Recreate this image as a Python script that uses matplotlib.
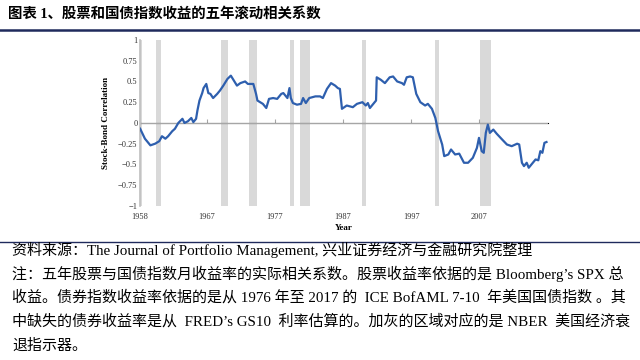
import matplotlib.pyplot as plt

plt.rcParams['font.family'] = ['Liberation Serif', 'Noto Sans CJK SC']

# Correlación móvil de 5 años acciones / bonos
years = [1958.0, 1958.7, 1959.5, 1960.2, 1960.8, 1961.2, 1961.7, 1962.1, 1962.7, 1963.1,
         1963.6, 1964.2, 1964.5, 1965.0, 1965.5, 1965.8, 1966.2, 1966.4, 1966.7, 1967.1,
         1967.3, 1967.7, 1968.0, 1968.3, 1968.7, 1969.3, 1969.7, 1970.2, 1970.8, 1971.3,
         1971.6, 1972.2, 1972.7, 1973.4, 1973.8, 1974.6, 1975.0, 1975.2, 1975.6, 1976.0,
         1976.5, 1976.9, 1977.5, 1978.1, 1978.7, 1979.0, 1979.6, 1979.9, 1980.1, 1980.4,
         1981.0, 1981.6, 1981.9, 1982.3, 1982.8, 1983.7, 1984.4, 1984.8, 1985.4, 1986.0,
         1986.6, 1987.0, 1987.3, 1987.6, 1988.3, 1989.2, 1989.8, 1990.6, 1991.1, 1991.4,
         1991.7, 1992.2, 1992.6, 1992.7, 1993.3, 1993.9, 1994.6, 1995.1, 1995.7, 1996.4,
         1996.7, 1997.1, 1997.6, 1998.0, 1998.5, 1999.1, 1999.8, 2000.2, 2000.8, 2001.3,
         2001.7, 2002.3, 2002.6, 2003.2, 2003.6, 2004.2, 2004.8, 2005.5, 2006.1, 2006.8,
         2007.4, 2007.7, 2008.1, 2008.4, 2008.7, 2009.0, 2009.3, 2009.8, 2010.3, 2011.1,
         2011.8, 2012.5, 2013.3, 2013.6, 2014.0, 2014.3, 2014.7, 2015.0, 2015.6, 2016.0,
         2016.4, 2016.7, 2017.0, 2017.3, 2017.6]
corr = [-0.07, -0.19, -0.27, -0.25, -0.22, -0.16, -0.19, -0.16, -0.10, -0.07,
        0.00, 0.05, 0.00, 0.02, 0.06, 0.01, 0.05, 0.15, 0.27, 0.36,
        0.42, 0.47, 0.36, 0.35, 0.30, 0.35, 0.39, 0.45, 0.53, 0.57,
        0.53, 0.45, 0.48, 0.50, 0.47, 0.47, 0.35, 0.27, 0.25, 0.23,
        0.18, 0.29, 0.30, 0.29, 0.35, 0.36, 0.30, 0.42, 0.30, 0.24,
        0.22, 0.23, 0.30, 0.24, 0.30, 0.32, 0.32, 0.30, 0.41, 0.48,
        0.45, 0.42, 0.41, 0.17, 0.21, 0.19, 0.23, 0.25, 0.21, 0.24,
        0.18, 0.23, 0.27, 0.55, 0.52, 0.48, 0.55, 0.56, 0.50, 0.48,
        0.46, 0.55, 0.56, 0.55, 0.35, 0.25, 0.21, 0.23, 0.17, 0.06,
        -0.10, -0.26, -0.40, -0.38, -0.32, -0.38, -0.37, -0.48, -0.48, -0.42,
        -0.30, -0.18, -0.34, -0.36, -0.12, -0.02, -0.12, -0.08, -0.13, -0.20,
        -0.26, -0.28, -0.25, -0.26, -0.48, -0.52, -0.48, -0.54, -0.48, -0.44,
        -0.45, -0.34, -0.36, -0.24, -0.23]

# Recesiones NBER (inicio, fin)
rec_start = [1957.6, 1960.3, 1969.9, 1973.9, 1980.0, 1981.5, 1990.6, 2001.2, 2007.9]
rec_end = [1958.3, 1961.1, 1970.9, 1975.2, 1980.5, 1982.9, 1991.2, 2001.9, 2009.5]

tick_pos = [1958, 1967.75, 1977.75, 1987.75, 1997.75, 2007.75]
tick_labels = ['1958', '1967', '1977', '1987', '1997', '2007']
y_ticks = [1, 0.75, 0.5, 0.25, 0, -0.25, -0.5, -0.75, -1]
y_labels = ['1', '0.75', '0.5', '0.25', '0', '\u22120.25', '\u22120.5', '\u22120.75', '\u22121']

title = '图表 1、股票和国债指数收益的五年滚动相关系数'
notes = [
    '资料来源：The Journal of Portfolio Management, 兴业证券经济与金融研究院整理',
    '注：五年股票与国债指数月收益率的实际相关系数。股票收益率依据的是 Bloomberg’s SPX 总',
    '收益。债券指数收益率依据的是从 1976 年至 2017 的  ICE BofAML 7-10  年美国国债指数 。其',
    '中缺失的债券收益率是从  FRED’s GS10  利率估算的。加灰的区域对应的是 NBER  美国经济衰',
    '退指示器。',
]

fig = plt.figure(figsize=(6.4, 3.6), dpi=100)
ax = fig.add_axes([0.219, 0.428, 0.637, 0.461])

for a, b in zip(rec_start, rec_end):
    ax.axvspan(a, b, color='#d9d9d9', lw=0, zorder=0)

# eje de categorías cruzando en cero
ax.axhline(0, color='#a6a6a6', lw=0.8, zorder=1)
ax.plot(years, corr, color='#2e5fae', lw=1.6, zorder=3)

ax.set_xlim(1958, 2017.8)
ax.set_ylim(-1, 1)
ax.set_yticks(y_ticks)
ax.set_yticklabels(y_labels)
ax.set_xticks(tick_pos)
ax.set_xticklabels(tick_labels)
ax.tick_params(axis='both', length=0, labelsize=6, colors='#333333', pad=2)
ax.tick_params(axis='x', pad=5)

for s in ['top', 'right', 'bottom']:
    ax.spines[s].set_visible(False)
ax.spines['left'].set_color('#bfbfbf')
ax.spines['left'].set_linewidth(1.2)

zero_ax = ax.secondary_xaxis(0.5)
zero_ax.set_xticks(tick_pos[1:])
zero_ax.set_xticklabels([])
zero_ax.spines['bottom'].set_visible(False)
zero_ax.tick_params(length=3, width=0.8, color='#a6a6a6', direction='out')

ax.set_ylabel('Stock-Bond Correlation', fontsize=6.5, fontweight='bold', labelpad=6)
ax.set_xlabel('Year', fontsize=6.5, fontweight='bold', labelpad=2)

# título y notas
fig.text(0.013, 0.962, title, fontsize=10.4, fontweight='bold', va='center', ha='left')
fig.add_artist(plt.Line2D([0, 1], [0.918, 0.918], color='#1f2a5c', lw=1.8))
fig.add_artist(plt.Line2D([0, 1], [0.328, 0.328], color='#1f2a5c', lw=1.0))

y = 0.305
for line in notes:
    fig.text(0.019, y, line, fontsize=10.8, va='center', ha='left')
    y -= 0.066

fig.savefig('out.png', dpi=100)
